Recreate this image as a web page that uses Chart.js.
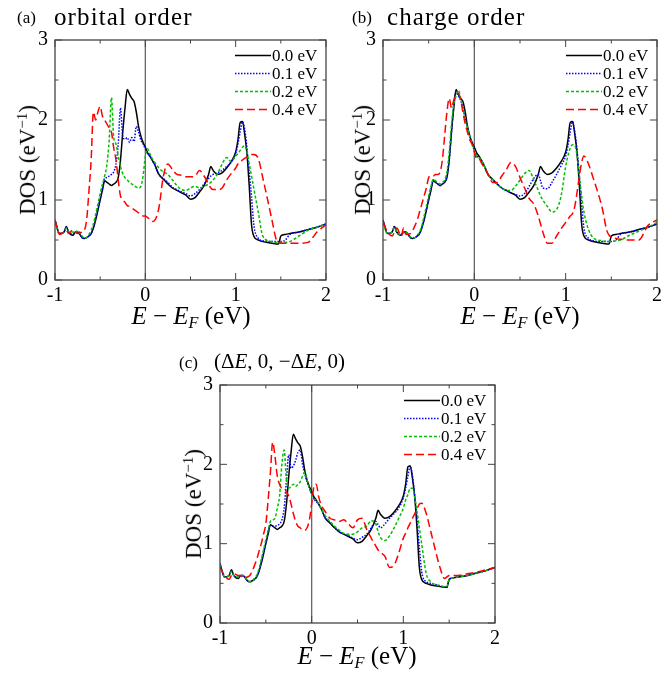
<!DOCTYPE html>
<html>
<head>
<meta charset="utf-8">
<script src="https://cdn.jsdelivr.net/npm/chart.js@4.4.0/dist/chart.umd.min.js"></script>
<style>
    body { margin: 0; background: #fff; width: 670px; height: 673px; position: relative; overflow: hidden; font-family: 'Liberation Serif', serif; color: #000; }
    canvas { position: absolute; }
    .lbl { position: absolute; white-space: nowrap; line-height: 1; }
    .tag { font-size: 17px; }
    .title { font-size: 25px; letter-spacing: 1.1px; }
    .math { font-size: 21px; }
    .xlab { font-size: 25px; transform: translate(-50%, -50%); }
    .ylab { font-size: 23px; transform: translate(-50%, -50%) rotate(-90deg); }
    sub { font-size: 65%; vertical-align: -0.25em; }
    sup { font-size: 65%; vertical-align: 0.55em; }
</style>
</head>
<body>
<canvas id="chartA" width="335" height="310" style="left:0;top:0"></canvas>
<canvas id="chartB" width="335" height="310" style="left:335px;top:0"></canvas>
<canvas id="chartC" width="335" height="310" style="left:170px;top:345px"></canvas>

<div class="lbl tag" style="left:17px;top:9px">(a)</div>
<div class="lbl title" style="left:54px;top:4px">orbital order</div>
<div class="lbl tag" style="left:352px;top:9px">(b)</div>
<div class="lbl title" style="left:387px;top:4px">charge order</div>
<div class="lbl tag" style="left:179px;top:354px">(c)</div>
<div class="lbl math" style="left:214px;top:351px">(Δ<i>E</i>, 0, −Δ<i>E</i>, 0)</div>

<div class="lbl ylab" style="left:27px;top:160px">DOS (eV<sup>−1</sup>)</div>
<div class="lbl ylab" style="left:362px;top:160px">DOS (eV<sup>−1</sup>)</div>
<div class="lbl ylab" style="left:193px;top:504px">DOS (eV<sup>−1</sup>)</div>

<div class="lbl xlab" style="left:191px;top:317px"><i>E</i> − <i>E</i><sub><i>F</i></sub> (eV)</div>
<div class="lbl xlab" style="left:520px;top:317px"><i>E</i> − <i>E</i><sub><i>F</i></sub> (eV)</div>
<div class="lbl xlab" style="left:357px;top:657px"><i>E</i> − <i>E</i><sub><i>F</i></sub> (eV)</div>

<script>
// Density of states vs energy, three distortion patterns, four amplitudes each

const energy = [
    -1, -0.95, -0.9, -0.875, -0.85, -0.8, -0.775, -0.75, -0.7, -0.675,
    -0.65, -0.625, -0.6, -0.575, -0.55, -0.525, -0.5, -0.475, -0.45, -0.425,
    -0.4, -0.375, -0.35, -0.325, -0.3, -0.275, -0.25, -0.225, -0.2, -0.175,
    -0.15, -0.125, -0.1, -0.075, -0.05, -0.025, 0, 0.025, 0.05, 0.075,
    0.1, 0.15, 0.2, 0.25, 0.3, 0.35, 0.4, 0.45, 0.5, 0.55,
    0.6, 0.65, 0.7, 0.725, 0.75, 0.8, 0.85, 0.9, 0.95, 1.0,
    1.025, 1.05, 1.075, 1.1, 1.125, 1.15, 1.175, 1.2, 1.25, 1.3,
    1.4, 1.45, 1.475, 1.5, 1.55, 1.6, 1.7, 1.8, 1.9, 2.0
];

// 0.0 eV, same curve in all three panels
const dosUndistorted = [
    0.75, 0.58, 0.60, 0.67, 0.60, 0.56, 0.60, 0.60, 0.53, 0.52,
    0.53, 0.55, 0.58, 0.65, 0.75, 0.87, 1.00, 1.12, 1.24, 1.22,
    1.20, 1.18, 1.20, 1.22, 1.28, 1.50, 1.85, 2.15, 2.38, 2.32,
    2.27, 2.23, 2.10, 1.92, 1.80, 1.72, 1.66, 1.59, 1.55, 1.50,
    1.45, 1.32, 1.26, 1.20, 1.15, 1.12, 1.09, 1.06, 1.01, 1.03,
    1.10, 1.18, 1.32, 1.42, 1.37, 1.32, 1.34, 1.40, 1.48, 1.60,
    1.75, 1.97, 1.98, 1.82, 1.58, 1.18, 0.70, 0.55, 0.50, 0.48,
    0.46, 0.45, 0.45, 0.55, 0.57, 0.58, 0.60, 0.63, 0.66, 0.70
];

// (a) orbital order
const orbital01 = [
    0.75, 0.58, 0.60, 0.66, 0.60, 0.57, 0.60, 0.60, 0.53, 0.52,
    0.53, 0.55, 0.58, 0.66, 0.77, 0.90, 1.02, 1.15, 1.27, 1.28,
    1.30, 1.32, 1.35, 1.45, 1.70, 2.15, 1.80, 1.76, 1.78, 1.72,
    1.78, 1.73, 1.92, 1.85, 1.75, 1.70, 1.64, 1.58, 1.55, 1.50,
    1.45, 1.32, 1.27, 1.22, 1.16, 1.13, 1.10, 1.08, 1.05, 1.08,
    1.13, 1.20, 1.27, 1.30, 1.32, 1.34, 1.37, 1.42, 1.47, 1.58,
    1.70, 1.85, 1.98, 1.88, 1.65, 1.35, 1.05, 0.70, 0.52, 0.49,
    0.48, 0.48, 0.48, 0.48, 0.50, 0.57, 0.60, 0.63, 0.66, 0.70
];
const orbital02 = [
    0.73, 0.58, 0.60, 0.65, 0.60, 0.60, 0.58, 0.62, 0.55, 0.52,
    0.53, 0.57, 0.62, 0.70, 0.82, 0.95, 1.08, 1.20, 1.30, 1.45,
    1.75, 2.28, 1.78, 1.70, 1.55, 1.42, 1.33, 1.28, 1.25, 1.22,
    1.20, 1.18, 1.16, 1.15, 1.17, 1.30, 1.55, 1.64, 1.58, 1.52,
    1.48, 1.40, 1.35, 1.32, 1.25, 1.18, 1.13, 1.12, 1.15, 1.17,
    1.15, 1.17, 1.20, 1.22, 1.25, 1.33, 1.45, 1.53, 1.48, 1.55,
    1.58, 1.62, 1.66, 1.68, 1.60, 1.45, 1.30, 1.15, 0.85, 0.55,
    0.48, 0.47, 0.47, 0.47, 0.47, 0.48, 0.55, 0.62, 0.66, 0.70
];
const orbital04 = [
    0.75, 0.57, 0.60, 0.62, 0.58, 0.63, 0.60, 0.58, 0.60, 0.62,
    0.75, 1.10, 1.50, 2.10, 2.00, 2.10, 2.17, 2.05, 2.00, 1.95,
    1.90, 1.85, 1.65, 1.50, 1.25, 1.05, 1.00, 0.97, 0.93, 0.92,
    0.90, 0.88, 0.86, 0.84, 0.82, 0.80, 0.80, 0.78, 0.76, 0.73,
    0.74, 0.90, 1.30, 1.45, 1.38, 1.32, 1.31, 1.29, 1.29, 1.30,
    1.37, 1.30, 1.20, 1.15, 1.13, 1.13, 1.15, 1.25, 1.33, 1.40,
    1.45, 1.48, 1.50, 1.52, 1.54, 1.56, 1.57, 1.57, 1.52, 1.28,
    0.76, 0.50, 0.47, 0.46, 0.46, 0.46, 0.46, 0.47, 0.60, 0.69
];

// (b) charge order
const charge01 = [
    0.75, 0.58, 0.60, 0.67, 0.60, 0.56, 0.60, 0.60, 0.53, 0.52,
    0.53, 0.55, 0.58, 0.65, 0.76, 0.88, 1.01, 1.13, 1.25, 1.23,
    1.20, 1.18, 1.20, 1.23, 1.30, 1.50, 1.85, 2.20, 2.35, 2.30,
    2.25, 2.15, 2.02, 1.90, 1.80, 1.70, 1.62, 1.55, 1.53, 1.50,
    1.45, 1.32, 1.25, 1.20, 1.15, 1.12, 1.09, 1.07, 1.05, 1.08,
    1.17, 1.27, 1.32, 1.24, 1.15, 1.14, 1.22, 1.32, 1.43, 1.55,
    1.68, 1.85, 1.98, 1.85, 1.62, 1.30, 0.95, 0.65, 0.52, 0.49,
    0.48, 0.48, 0.48, 0.48, 0.50, 0.57, 0.60, 0.63, 0.66, 0.70
];
const charge02 = [
    0.73, 0.58, 0.60, 0.66, 0.60, 0.57, 0.60, 0.60, 0.54, 0.52,
    0.53, 0.56, 0.60, 0.68, 0.80, 0.92, 1.05, 1.17, 1.26, 1.24,
    1.22, 1.20, 1.22, 1.25, 1.35, 1.60, 1.95, 2.20, 2.30, 2.37,
    2.28, 2.15, 2.00, 1.90, 1.80, 1.70, 1.62, 1.55, 1.53, 1.50,
    1.45, 1.32, 1.26, 1.20, 1.15, 1.12, 1.12, 1.17, 1.25, 1.33,
    1.37, 1.25, 1.12, 1.05, 1.00, 0.92, 0.85, 0.88, 1.05, 1.42,
    1.55, 1.65, 1.69, 1.68, 1.55, 1.30, 1.05, 0.85, 0.63, 0.53,
    0.49, 0.48, 0.48, 0.48, 0.49, 0.50, 0.56, 0.61, 0.66, 0.72
];
const charge04 = [
    0.72, 0.60, 0.55, 0.60, 0.65, 0.55, 0.65, 0.57, 0.58, 0.62,
    0.68, 0.75, 0.85, 0.95, 1.05, 1.15, 1.28, 1.30, 1.30, 1.32,
    1.32, 1.35, 1.50, 1.80, 2.10, 2.27, 2.15, 2.25, 2.30, 2.33,
    2.25, 2.10, 1.95, 1.85, 1.75, 1.70, 1.60, 1.52, 1.52, 1.47,
    1.42, 1.32, 1.22, 1.22, 1.30, 1.38, 1.47, 1.42, 1.28, 1.15,
    1.02, 0.95, 0.80, 0.70, 0.60, 0.46, 0.46, 0.55, 0.64, 0.72,
    0.76, 0.80, 0.83, 0.92, 1.10, 1.30, 1.47, 1.55, 1.45, 1.28,
    0.90, 0.62, 0.56, 0.54, 0.52, 0.51, 0.50, 0.50, 0.68, 0.75
];

// (c) (dE, 0, -dE, 0)
const pattern01 = [
    0.74, 0.58, 0.60, 0.66, 0.60, 0.57, 0.60, 0.60, 0.53, 0.52,
    0.53, 0.55, 0.58, 0.66, 0.77, 0.90, 1.02, 1.14, 1.23, 1.22,
    1.22, 1.23, 1.25, 1.30, 1.45, 1.80, 2.12, 1.95, 1.98, 2.05,
    2.15, 2.18, 2.00, 1.88, 1.78, 1.70, 1.62, 1.56, 1.53, 1.50,
    1.45, 1.32, 1.26, 1.20, 1.15, 1.12, 1.10, 1.07, 1.05, 1.08,
    1.12, 1.20, 1.28, 1.24, 1.20, 1.25, 1.32, 1.38, 1.45, 1.58,
    1.70, 1.85, 1.98, 1.85, 1.60, 1.30, 0.95, 0.65, 0.52, 0.50,
    0.47, 0.45, 0.45, 0.55, 0.57, 0.58, 0.60, 0.63, 0.66, 0.70
];
const pattern02 = [
    0.73, 0.58, 0.60, 0.65, 0.60, 0.58, 0.60, 0.60, 0.54, 0.52,
    0.53, 0.56, 0.60, 0.68, 0.80, 0.92, 1.05, 1.17, 1.28, 1.30,
    1.32, 1.45, 1.60, 2.00, 2.18, 1.80, 1.70, 1.72, 1.75, 1.72,
    1.75, 1.78, 1.85, 1.90, 1.80, 1.70, 1.62, 1.56, 1.55, 1.50,
    1.45, 1.35, 1.28, 1.22, 1.17, 1.13, 1.12, 1.12, 1.15, 1.20,
    1.22, 1.29, 1.25, 1.15, 1.08, 1.04, 1.10, 1.20, 1.32, 1.45,
    1.55, 1.62, 1.70, 1.70, 1.58, 1.40, 1.20, 1.00, 0.62, 0.52,
    0.47, 0.46, 0.46, 0.55, 0.57, 0.58, 0.60, 0.63, 0.66, 0.70
];
const pattern04 = [
    0.70, 0.60, 0.55, 0.60, 0.62, 0.60, 0.60, 0.57, 0.58, 0.60,
    0.65, 0.72, 0.80, 0.90, 1.00, 1.12, 1.25, 1.55, 1.90, 2.28,
    2.10, 1.85, 1.75, 1.70, 1.70, 1.65, 1.60, 1.50, 1.38, 1.28,
    1.22, 1.20, 1.17, 1.17, 1.20, 1.30, 1.50, 1.72, 1.75, 1.60,
    1.50, 1.40, 1.32, 1.30, 1.28, 1.30, 1.25, 1.20, 1.30, 1.32,
    1.18, 1.07, 0.97, 0.92, 0.89, 0.84, 0.70, 0.73, 0.88, 1.07,
    1.13, 1.20, 1.26, 1.32, 1.38, 1.44, 1.50, 1.51, 1.38, 1.15,
    0.70, 0.56, 0.58, 0.60, 0.60, 0.60, 0.62, 0.64, 0.67, 0.70
];

const seriesLabels = ['0.0 eV', '0.1 eV', '0.2 eV', '0.4 eV'];
const seriesColors = ['#000000', '#0000ff', '#00c000', '#ff0000'];
const seriesDash = [[], [1.5, 1.5], [3, 2], [8, 4]];

const xTicks = [-1, 0, 1, 2];
const yTicks = [0, 1, 2, 3];

// Frame with inward ticks, the E_F line and an in-plot legend
const framePlugin = {
    id: 'framePlugin',
    beforeDatasetsDraw(chart) {
        const { ctx, chartArea: a, scales: { x } } = chart;
        const x0 = x.getPixelForValue(0);
        ctx.save();
        ctx.strokeStyle = '#666';
        ctx.lineWidth = 1.3;
        ctx.beginPath();
        ctx.moveTo(x0, a.top);
        ctx.lineTo(x0, a.bottom);
        ctx.stroke();
        ctx.restore();
    },
    afterDatasetsDraw(chart) {
        const { ctx, chartArea: a, scales: { x, y } } = chart;
        ctx.save();
        ctx.strokeStyle = '#444';
        ctx.lineWidth = 1.3;
        ctx.strokeRect(a.left, a.top, a.right - a.left, a.bottom - a.top);

        ctx.lineWidth = 1;
        ctx.beginPath();
        for (let v = -1; v <= 2.001; v += 0.5) {
            const px = x.getPixelForValue(v);
            const len = Number.isInteger(v) ? 7 : 3.5;
            ctx.moveTo(px, a.bottom); ctx.lineTo(px, a.bottom - len);
            ctx.moveTo(px, a.top); ctx.lineTo(px, a.top + len);
        }
        for (let v = 0; v <= 3.001; v += 0.5) {
            const py = y.getPixelForValue(v);
            const len = Number.isInteger(v) ? 7 : 3.5;
            ctx.moveTo(a.left, py); ctx.lineTo(a.left + len, py);
            ctx.moveTo(a.right, py); ctx.lineTo(a.right - len, py);
        }
        ctx.stroke();

        // legend
        ctx.font = '17px "Liberation Serif"';
        ctx.textBaseline = 'middle';
        ctx.fillStyle = '#000';
        chart.data.datasets.forEach((ds, i) => {
            const ly = a.top + 15.5 + i * 18;
            ctx.strokeStyle = ds.borderColor;
            ctx.lineWidth = 1.5;
            ctx.setLineDash(ds.borderDash);
            ctx.beginPath();
            ctx.moveTo(a.right - 91, ly);
            ctx.lineTo(a.right - 55, ly);
            ctx.stroke();
            ctx.setLineDash([]);
            ctx.fillText(ds.label, a.right - 54, ly + 1);
        });
        ctx.restore();
    }
};

function buildDatasets(seriesList) {
    return seriesList.map((vals, i) => ({
        label: seriesLabels[i],
        data: energy.map((e, k) => ({ x: e, y: vals[k] })),
        borderColor: seriesColors[i],
        borderDash: seriesDash[i],
        borderWidth: 1.5,
        pointRadius: 0,
        fill: false,
        cubicInterpolationMode: 'monotone',
        order: 4 - i
    }));
}

function makePanel(canvasId, seriesList, box) {
    const tickFont = { family: 'Liberation Serif', size: 20 };
    return new Chart(document.getElementById(canvasId), {
        type: 'line',
        data: { datasets: buildDatasets(seriesList) },
        options: {
            responsive: false,
            animation: false,
            layout: { padding: { left: 0, right: box.right, top: box.top, bottom: 0 } },
            plugins: { legend: { display: false }, tooltip: { enabled: false } },
            scales: {
                x: {
                    type: 'linear',
                    min: -1,
                    max: 2,
                    afterBuildTicks: (scale) => { scale.ticks = xTicks.map(v => ({ value: v })); },
                    afterFit: (scale) => { scale.height = box.xh; },
                    ticks: { font: tickFont, color: '#000', padding: 4 },
                    grid: { display: false, drawTicks: false },
                    border: { display: false }
                },
                y: {
                    min: 0,
                    max: 3,
                    afterBuildTicks: (scale) => { scale.ticks = yTicks.map(v => ({ value: v })); },
                    afterFit: (scale) => { scale.width = box.yw; },
                    ticks: { font: tickFont, color: '#000', padding: 7 },
                    grid: { display: false, drawTicks: false },
                    border: { display: false }
                }
            }
        },
        plugins: [framePlugin]
    });
}

makePanel('chartA', [dosUndistorted, orbital01, orbital02, orbital04], { top: 40, right: 8, yw: 55, xh: 30 });
makePanel('chartB', [dosUndistorted, charge01, charge02, charge04], { top: 40, right: 13, yw: 48, xh: 30 });
makePanel('chartC', [dosUndistorted, pattern01, pattern02, pattern04], { top: 40, right: 10, yw: 50, xh: 32 });
</script>
</body>
</html>
